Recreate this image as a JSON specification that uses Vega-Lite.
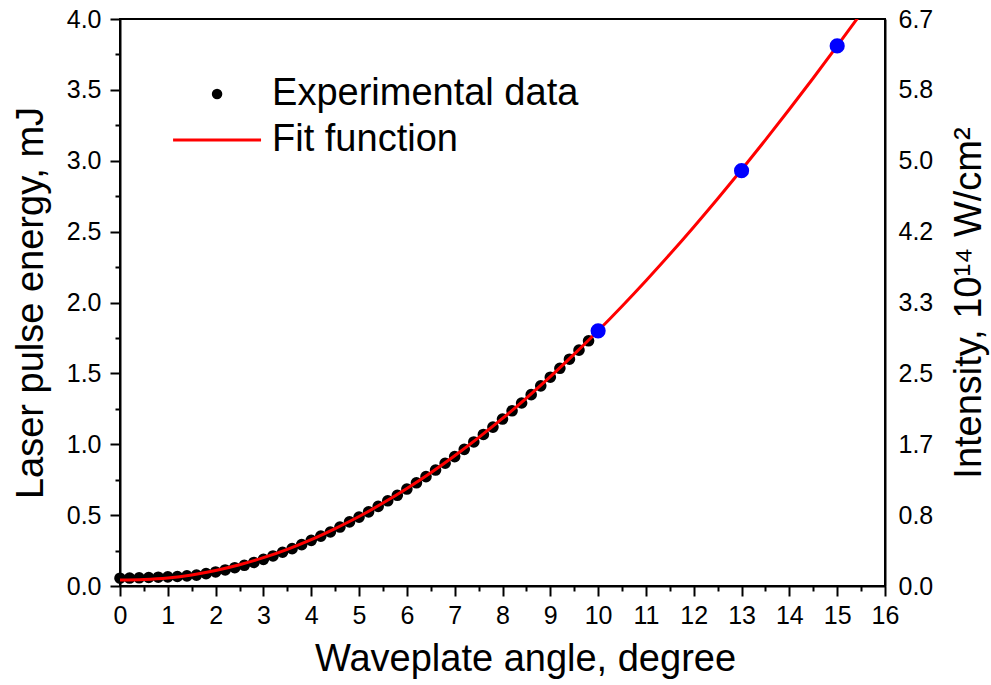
{
  "$schema": "https://vega.github.io/schema/vega-lite/v6.json",
  "width": 765,
  "height": 567,
  "autosize": "none",
  "padding": {"left": 120, "top": 19, "right": 106, "bottom": 99},
  "background": "white",
  "config": {
    "view": {"stroke": "black", "strokeWidth": 2},
    "axis": {
      "labelFont": "Liberation Sans",
      "titleFont": "Liberation Sans",
      "labelColor": "black",
      "titleColor": "black",
      "titleFontWeight": "normal",
      "domainColor": "black",
      "tickColor": "black",
      "domainWidth": 2,
      "tickWidth": 2,
      "grid": false,
      "labelFontSize": 25
    }
  },
  "resolve": {"axis": {"x": "independent", "y": "independent"}},
  "layer": [
    {
      "data": {"values": [
        {"angle": 0.0, "energy": 0.055}, {"angle": 0.2, "energy": 0.056}, {"angle": 0.4, "energy": 0.058},
        {"angle": 0.6, "energy": 0.060}, {"angle": 0.8, "energy": 0.062}, {"angle": 1.0, "energy": 0.064},
        {"angle": 1.2, "energy": 0.067}, {"angle": 1.4, "energy": 0.071}, {"angle": 1.6, "energy": 0.077},
        {"angle": 1.8, "energy": 0.087}, {"angle": 2.0, "energy": 0.099}, {"angle": 2.2, "energy": 0.113},
        {"angle": 2.4, "energy": 0.129}, {"angle": 2.6, "energy": 0.146}, {"angle": 2.8, "energy": 0.166},
        {"angle": 3.0, "energy": 0.188}, {"angle": 3.2, "energy": 0.212}, {"angle": 3.4, "energy": 0.238},
        {"angle": 3.6, "energy": 0.264}, {"angle": 3.8, "energy": 0.292}, {"angle": 4.0, "energy": 0.322},
        {"angle": 4.2, "energy": 0.352}, {"angle": 4.4, "energy": 0.381}, {"angle": 4.6, "energy": 0.416},
        {"angle": 4.8, "energy": 0.452}, {"angle": 5.0, "energy": 0.486}, {"angle": 5.2, "energy": 0.523},
        {"angle": 5.4, "energy": 0.562}, {"angle": 5.6, "energy": 0.601}, {"angle": 5.8, "energy": 0.640},
        {"angle": 6.0, "energy": 0.684}, {"angle": 6.2, "energy": 0.728}, {"angle": 6.4, "energy": 0.772},
        {"angle": 6.6, "energy": 0.818}, {"angle": 6.8, "energy": 0.866}, {"angle": 7.0, "energy": 0.913},
        {"angle": 7.2, "energy": 0.964}, {"angle": 7.4, "energy": 1.016}, {"angle": 7.6, "energy": 1.069},
        {"angle": 7.8, "energy": 1.121}, {"angle": 8.0, "energy": 1.178}, {"angle": 8.2, "energy": 1.236},
        {"angle": 8.4, "energy": 1.291}, {"angle": 8.6, "energy": 1.350}, {"angle": 8.8, "energy": 1.412},
        {"angle": 9.0, "energy": 1.473}, {"angle": 9.2, "energy": 1.536}, {"angle": 9.4, "energy": 1.600},
        {"angle": 9.6, "energy": 1.664}, {"angle": 9.8, "energy": 1.730}
      ]},
      "mark": {"type": "circle", "color": "black", "opacity": 1, "size": 135},
      "encoding": {
        "x": {"field": "angle", "type": "quantitative", "scale": {"domain": [0, 16], "nice": false, "zero": false},
          "axis": {"orient": "bottom", "values": [0,1,2,3,4,5,6,7,8,9,10,11,12,13,14,15,16], "tickSize": 10, "labelPadding": 7,
            "title": "Waveplate angle, degree", "titleFontSize": 38, "titlePadding": 12, "titleX": 405, "labelFlush": false}},
        "y": {"field": "energy", "type": "quantitative", "scale": {"domain": [0, 4], "nice": false, "zero": false},
          "axis": {"orient": "left", "values": [0,0.5,1,1.5,2,2.5,3,3.5,4], "format": ".1f", "tickSize": 10, "labelPadding": 9,
            "title": "Laser pulse energy, mJ", "titleFontSize": 38, "titlePadding": 16, "labelFlush": false}}
      }
    },
    {
      "data": {"values": [
        {"angle": 0.0, "energy": 0.042}, {"angle": 0.5, "energy": 0.046}, {"angle": 1.0, "energy": 0.057},
        {"angle": 1.5, "energy": 0.078}, {"angle": 2.0, "energy": 0.109}, {"angle": 2.5, "energy": 0.150},
        {"angle": 3.0, "energy": 0.200}, {"angle": 3.5, "energy": 0.259}, {"angle": 4.0, "energy": 0.327},
        {"angle": 4.5, "energy": 0.405}, {"angle": 5.0, "energy": 0.490}, {"angle": 5.5, "energy": 0.585},
        {"angle": 6.0, "energy": 0.688}, {"angle": 6.5, "energy": 0.799}, {"angle": 7.0, "energy": 0.919},
        {"angle": 7.5, "energy": 1.047}, {"angle": 8.0, "energy": 1.182}, {"angle": 8.5, "energy": 1.326},
        {"angle": 9.0, "energy": 1.477}, {"angle": 9.5, "energy": 1.636}, {"angle": 10.0, "energy": 1.801},
        {"angle": 10.5, "energy": 1.974}, {"angle": 11.0, "energy": 2.154}, {"angle": 11.5, "energy": 2.340},
        {"angle": 12.0, "energy": 2.533}, {"angle": 12.5, "energy": 2.732}, {"angle": 13.0, "energy": 2.937},
        {"angle": 13.5, "energy": 3.147}, {"angle": 14.0, "energy": 3.363}, {"angle": 14.5, "energy": 3.584},
        {"angle": 15.0, "energy": 3.810}, {"angle": 15.5, "energy": 4.040}
      ]},
      "mark": {"type": "line", "color": "#ff0000", "strokeWidth": 3, "interpolate": "monotone", "clip": true},
      "encoding": {
        "x": {"field": "angle", "type": "quantitative",
          "axis": {"orient": "bottom", "values": [0.5,1.5,2.5,3.5,4.5,5.5,6.5,7.5,8.5,9.5,10.5,11.5,12.5,13.5,14.5,15.5], "tickSize": 5, "labels": false, "domain": false, "title": null}},
        "y": {"field": "energy", "type": "quantitative",
          "axis": {"orient": "left", "values": [0.25,0.75,1.25,1.75,2.25,2.75,3.25,3.75], "tickSize": 5, "labels": false, "domain": false, "title": null}}
      }
    },
    {
      "data": {"values": [
        {"angle": 10, "energy": 1.80}, {"angle": 13, "energy": 2.93}, {"angle": 15, "energy": 3.81}
      ]},
      "mark": {"type": "circle", "color": "#0000ff", "opacity": 1, "size": 230},
      "encoding": {
        "x": {"field": "angle", "type": "quantitative", "axis": null},
        "y": {"field": "energy", "type": "quantitative",
          "axis": {"orient": "right", "values": [0,0.5,1,1.5,2,2.5,3,3.5,4], "labelExpr": "format(datum.value*5/3, '.1f')",
            "ticks": false, "tickSize": 0, "labelPadding": 13, "labelFlush": false,
            "title": "Intensity, 10¹⁴ W/cm²", "titleFontSize": 38, "titleAngle": -90, "titleBaseline": "top", "titlePadding": 18}}
      }
    },
    {
      "data": {"values": [{"angle": 2.03, "energy": 3.471}]},
      "mark": {"type": "circle", "color": "black", "opacity": 1, "size": 110},
      "encoding": {
        "x": {"field": "angle", "type": "quantitative", "axis": null},
        "y": {"field": "energy", "type": "quantitative", "axis": null}
      }
    },
    {
      "data": {"values": [{"angle": 1.11, "angle2": 2.95, "energy": 3.146}]},
      "mark": {"type": "rule", "color": "#ff0000", "strokeWidth": 3},
      "encoding": {
        "x": {"field": "angle", "type": "quantitative", "axis": null},
        "x2": {"field": "angle2"},
        "y": {"field": "energy", "type": "quantitative", "axis": null}
      }
    },
    {
      "data": {"values": [
        {"angle": 3.18, "energy": 3.471, "label": "Experimental data"},
        {"angle": 3.18, "energy": 3.146, "label": "Fit function"}
      ]},
      "mark": {"type": "text", "align": "left", "baseline": "middle", "font": "Liberation Sans", "fontSize": 38, "color": "black"},
      "encoding": {
        "x": {"field": "angle", "type": "quantitative", "axis": null},
        "y": {"field": "energy", "type": "quantitative", "axis": null},
        "text": {"field": "label"}
      }
    }
  ]
}
